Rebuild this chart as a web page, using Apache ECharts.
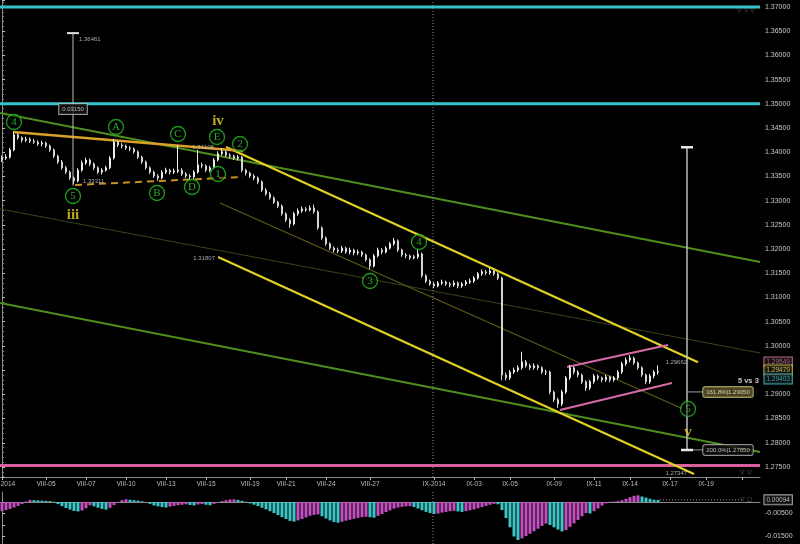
<!DOCTYPE html>
<html><head><meta charset="utf-8">
<script src="https://cdn.jsdelivr.net/npm/echarts@6/dist/echarts.min.js"></script>
<style>html,body{margin:0;padding:0;background:#000}#c{width:800px;height:544px}</style>
</head><body><div id="c"></div>
<script>
// ---------- data ----------
const slotCount = 190;
const tickSlots  = [0,11,21,31,41,51,62,71,81,92,108,118,127,138,148,157,167,176,185];
const tickLabels = ['VIII-2014','VIII-05','VIII-07','VIII-10','VIII-13','VIII-15','VIII-19','VIII-21','VIII-24','VIII-27',
                    'IX-2014','IX-03','IX-05','IX-09','IX-11','IX-14','IX-17','IX-19',''];
const firstOpen = 1.3385;
const closes = [1.3388,1.3390,1.3405,1.3436,1.3430,1.3425,1.3427,1.3423,1.3421,1.3417,
 1.3419,1.3413,1.3405,1.3392,1.3380,1.3368,1.3359,1.3347,1.3341,1.3363,
 1.3378,1.3384,1.3376,1.3368,1.3359,1.3363,1.3368,1.3388,1.3421,1.3415,
 1.3413,1.3409,1.3407,1.3401,1.3390,1.3380,1.3368,1.3359,1.3351,1.3347,
 1.3359,1.3363,1.3359,1.3361,1.3363,1.3355,1.3351,1.3349,1.3359,1.3374,
 1.3372,1.3363,1.3368,1.3384,1.3397,1.3401,1.3394,1.3392,1.3388,1.3390,
 1.3363,1.3357,1.3351,1.3347,1.3339,1.3322,1.3314,1.3306,1.3297,1.3289,
 1.3273,1.3260,1.3252,1.3273,1.3279,1.3283,1.3281,1.3285,1.3277,1.3244,
 1.3223,1.3211,1.3202,1.3198,1.3196,1.3202,1.3194,1.3198,1.3192,1.3194,
 1.3188,1.3178,1.3165,1.3186,1.3198,1.3194,1.3202,1.3211,1.3217,1.3198,
 1.3188,1.3186,1.3182,1.3184,1.3190,1.3145,1.3134,1.3128,1.3124,1.3130,
 1.3132,1.3128,1.3126,1.3130,1.3124,1.3128,1.3132,1.3134,1.3140,1.3149,
 1.3153,1.3151,1.3155,1.3149,1.3140,1.2940,1.2934,1.2946,1.2950,1.2955,
 1.2967,1.2959,1.2955,1.2959,1.2955,1.2946,1.2946,1.2905,1.2889,1.2880,
 1.2905,1.2934,1.2955,1.2946,1.2940,1.2926,1.2913,1.2926,1.2938,1.2934,
 1.2930,1.2936,1.2930,1.2934,1.2946,1.2963,1.2971,1.2975,1.2965,1.2955,
 1.2940,1.2926,1.2938,1.2946,1.2947];
const highs = [1.3393,1.3396,1.3409,1.3442,1.3440,1.3433,1.3432,1.3431,1.3428,1.3425,
 1.3424,1.3422,1.3416,1.3408,1.3395,1.3384,1.3372,1.3362,1.3350,1.3367,
 1.3383,1.3389,1.3387,1.3379,1.3371,1.3367,1.3372,1.3392,1.3427,1.3424,
 1.3419,1.3416,1.3413,1.3410,1.3404,1.3393,1.3383,1.3371,1.3362,1.3355,
 1.3363,1.3368,1.3366,1.3366,1.3415,1.3367,1.3359,1.3355,1.3363,1.3405,
 1.3379,1.3375,1.3372,1.3388,1.3402,1.3409,1.3404,1.3398,1.3395,1.3394,
 1.3392,1.3366,1.3360,1.3355,1.3350,1.3342,1.3326,1.3318,1.3309,1.3300,
 1.3292,1.3276,1.3264,1.3277,1.3284,1.3288,1.3287,1.3290,1.3292,1.3280,
 1.3247,1.3226,1.3214,1.3206,1.3203,1.3207,1.3205,1.3203,1.3201,1.3199,
 1.3197,1.3191,1.3181,1.3190,1.3203,1.3202,1.3206,1.3215,1.3223,1.3220,
 1.3201,1.3192,1.3189,1.3188,1.3199,1.3193,1.3148,1.3137,1.3132,1.3134,
 1.3137,1.3135,1.3132,1.3135,1.3133,1.3132,1.3136,1.3139,1.3144,1.3153,
 1.3158,1.3157,1.3161,1.3158,1.3152,1.3143,1.2945,1.2950,1.2955,1.2960,
 1.2988,1.2971,1.2963,1.2964,1.2962,1.2958,1.2951,1.2949,1.2908,1.2893,
 1.2909,1.2938,1.2961,1.2958,1.2950,1.2943,1.2929,1.2930,1.2942,1.2941,
 1.2937,1.2941,1.2939,1.2938,1.2950,1.2967,1.2976,1.2981,1.2978,1.2968,
 1.2958,1.2943,1.2942,1.2950,1.2960];
const lows = [1.3380,1.3384,1.3387,1.3402,1.3426,1.3420,1.3421,1.3419,1.3417,1.3413,
 1.3412,1.3409,1.3401,1.3388,1.3376,1.3364,1.3355,1.3343,1.3334,1.3338,
 1.3360,1.3374,1.3371,1.3363,1.3355,1.3354,1.3360,1.3365,1.3385,1.3411,
 1.3408,1.3405,1.3402,1.3397,1.3386,1.3376,1.3364,1.3355,1.3347,1.3341,
 1.3344,1.3355,1.3354,1.3355,1.3357,1.3351,1.3347,1.3343,1.3345,1.3356,
 1.3367,1.3359,1.3359,1.3365,1.3381,1.3393,1.3390,1.3387,1.3384,1.3383,
 1.3359,1.3352,1.3347,1.3342,1.3334,1.3318,1.3310,1.3302,1.3293,1.3285,
 1.3269,1.3256,1.3244,1.3249,1.3269,1.3275,1.3277,1.3278,1.3273,1.3240,
 1.3219,1.3207,1.3198,1.3193,1.3191,1.3192,1.3190,1.3189,1.3187,1.3188,
 1.3184,1.3174,1.3158,1.3162,1.3183,1.3189,1.3191,1.3199,1.3207,1.3194,
 1.3184,1.3181,1.3178,1.3179,1.3180,1.3141,1.3130,1.3124,1.3119,1.3121,
 1.3126,1.3124,1.3121,1.3122,1.3119,1.3120,1.3124,1.3128,1.3130,1.3137,
 1.3145,1.3146,1.3147,1.3145,1.3136,1.2929,1.2929,1.2930,1.2942,1.2946,
 1.2951,1.2955,1.2950,1.2951,1.2950,1.2942,1.2940,1.2900,1.2884,1.2872,
 1.2876,1.2901,1.2930,1.2941,1.2935,1.2921,1.2907,1.2909,1.2922,1.2929,
 1.2925,1.2926,1.2925,1.2926,1.2930,1.2942,1.2959,1.2966,1.2961,1.2951,
 1.2936,1.2921,1.2922,1.2933,1.2941];
const histogram = [-0.0039,-0.0035,-0.0030,-0.0024,-0.0017,-0.0009,0.0002,0.0009,0.0008,0.0007,
 0.0006,0.0005,0.0004,0.0001,-0.0009,-0.0018,-0.0026,-0.0033,-0.0039,-0.0041,
 -0.0037,-0.0027,-0.0014,-0.0019,-0.0025,-0.0030,-0.0033,-0.0025,-0.0013,-0.0002,
 0.0008,0.0012,0.0010,0.0008,0.0006,0.0003,0.0000,-0.0008,-0.0015,-0.0019,
 -0.0022,-0.0024,-0.0020,-0.0017,-0.0014,-0.0012,-0.0010,-0.0013,-0.0015,-0.0011,
 -0.0009,-0.0012,-0.0014,-0.0008,-0.0002,0.0004,0.0008,0.0011,0.0012,0.0009,
 0.0005,0.0001,-0.0006,-0.0012,-0.0018,-0.0025,-0.0032,-0.0040,-0.0048,-0.0057,
 -0.0066,-0.0074,-0.0082,-0.0085,-0.0080,-0.0074,-0.0067,-0.0060,-0.0056,-0.0054,
 -0.0062,-0.0072,-0.0080,-0.0087,-0.0090,-0.0086,-0.0081,-0.0077,-0.0073,-0.0069,
 -0.0066,-0.0064,-0.0066,-0.0068,-0.0060,-0.0052,-0.0044,-0.0036,-0.0029,-0.0024,
 -0.0021,-0.0019,-0.0018,-0.0022,-0.0028,-0.0036,-0.0043,-0.0048,-0.0052,-0.0050,
 -0.0046,-0.0043,-0.0040,-0.0038,-0.0041,-0.0043,-0.0040,-0.0036,-0.0032,-0.0027,
 -0.0022,-0.0017,-0.0012,-0.0008,-0.0010,-0.0035,-0.0070,-0.0110,-0.0150,-0.0165,
 -0.0158,-0.0148,-0.0138,-0.0127,-0.0116,-0.0104,-0.0094,-0.0100,-0.0110,-0.0120,
 -0.0128,-0.0122,-0.0108,-0.0093,-0.0078,-0.0062,-0.0048,-0.0050,-0.0040,-0.0028,
 -0.0016,-0.0006,0.0001,0.0002,0.0004,0.0008,0.0014,0.0021,0.0027,0.0029,
 0.0024,0.0019,0.0014,0.0010,0.0009];
const histCurrent = 0.00094;

// horizontal levels
const cyanLevels = [1.3700, 1.3500];
const pinkLevel = 1.2753;
// trend lines: [slot position, price]
const greenUpper  = [[-0.5,1.34811],[189.5,1.31734]];
const greenLower  = [[-0.5,1.30887],[189.5,1.27811]];
const yellowUpper = [[56,1.34109],[174,1.29661]];
const yellowLower = [[54,1.31838],[173,1.27357]];
const oliveLine   = [[54.5,1.32953],[170,1.28707]];
const faintLine   = [[-0.5,1.32829],[189.5,1.29855]];
const orangeTop   = [[2.75,1.34419],[60.25,1.34027]];
const orangeDash  = [[18.25,1.33324],[60.25,1.33490]];
const pinkUpper   = [[141.25,1.29566],[166.5,1.30020]];
const pinkLower   = [[139.5,1.28678],[167.5,1.29236]];
const measureLeft = {x:17.75, top:1.36461, bottom:1.33311};
const measureRight = {x:171.25, top:1.34106, bottom:1.27852, fib:1.29050};
const dividerSlot = 107.75;
// wave labels
const waveCircles = [[3.0,1.34625,'4'],[17.75,1.33097,'5'],[28.5,1.34522,'A'],[38.75,1.33159,'B'],
  [44.0,1.34377,'C'],[47.5,1.33283,'D'],[53.75,1.34315,'E'],[59.5,1.34171,'2'],[54.0,1.33551,'1'],
  [92.0,1.31341,'3'],[104.25,1.32147,'4'],[171.5,1.28698,'5']];
const waveRoman = [[17.75,1.32704,'iii'],[54.0,1.34646,'iv'],[171.5,1.28223,'v']];
// small price texts: [slot, price, text, side]
const smallTexts = [[19.0,1.36340,'1.36461','right'],[20.0,1.33407,'1.33311','right'],
  [47.3,1.34109,'1.34108','right'],[53.5,1.31817,'1.31807','left'],
  [165.6,1.29669,'1.29662','right'],[165.6,1.27377,'1.27347','right']];
const priceTags = [[1.29669,'1.29549','#e07aa8'],[1.29504,'1.29479','#e0d040'],[1.29318,'1.29403','#40c8d0']];

// ---------- build ----------
const categories = Array.from({length: slotCount}, (_, i) => {
  const k = tickSlots.indexOf(i); return k >= 0 ? tickLabels[k] : '';
});
const opens = closes.map((c, i) => i === 0 ? firstOpen : closes[i - 1]);
const candles = closes.map((c, i) => [opens[i], c, lows[i], highs[i]]);
const isTick = (idx) => tickSlots.indexOf(idx) >= 0;
const FONT = 'Liberation Sans';

function seg(data, color, width, extra) {
  return Object.assign({type:'line', xAxisIndex:1, yAxisIndex:0, data:data, symbol:'none', silent:true,
    animation:false, lineStyle:{color:color, width:width}, z:3}, extra || {});
}
const series = [];
series.push({
  type:'candlestick', xAxisIndex:0, yAxisIndex:0, data:candles, barWidth:1.6, animation:false, z:4,
  itemStyle:{color:'#d6d6d6', color0:'#c4c4c4', borderColor:'#ececec', borderColor0:'#d4d4d4', borderWidth:1}
});
cyanLevels.forEach(v => series.push(seg([[-0.5,v],[189.5,v]], '#32c4ca', 3, {z:2})));
series.push(seg([[-0.5,pinkLevel],[189.5,pinkLevel]], '#d8609c', 3, {z:2}));
series.push(seg(faintLine, '#3b4418', 1));
series.push(seg(oliveLine, '#5f5a18', 1.2));
series.push(seg(greenUpper, '#4f8e1c', 2));
series.push(seg(greenLower, '#4f8e1c', 2));
series.push(seg(yellowUpper, '#e1d124', 2.2));
series.push(seg(yellowLower, '#e1d124', 2.2));
series.push(seg(orangeTop, '#d9a12a', 2.5));
series.push(seg(orangeDash, '#c98f22', 2, {lineStyle:{color:'#c98f22', width:2, type:[7,5]}}));
series.push(seg(pinkUpper, '#d66aa8', 2));
series.push(seg(pinkLower, '#d66aa8', 2));
// measurement tools
series.push(seg([[measureLeft.x, measureLeft.top],[measureLeft.x, measureLeft.bottom]], '#bdbdbd', 1));
series.push(seg([[measureLeft.x-1.5, measureLeft.top],[measureLeft.x+1.5, measureLeft.top]], '#e0e0e0', 2));
series.push(seg([[measureRight.x, measureRight.top],[measureRight.x, measureRight.bottom]], '#c8c8c8', 1.4));
series.push(seg([[measureRight.x-1.5, measureRight.top],[measureRight.x+1.5, measureRight.top]], '#e8e8e8', 2.5));
series.push(seg([[measureRight.x-1.5, measureRight.bottom],[measureRight.x+1.5, measureRight.bottom]], '#e8e8e8', 2.5));
series.push(seg([[measureRight.x, measureRight.fib],[175.3, measureRight.fib]], '#9a9a9a', 1));
series.push(seg([[measureRight.x+1.5, measureRight.bottom],[175.3, measureRight.bottom]], '#9a9a9a', 1));
// divider
series.push(seg([[dividerSlot,1.27293],[dividerSlot,1.37145]], '#8a8a8a', 1, {lineStyle:{color:'#8a8a8a', width:1, type:[1,2]}}));
// wave circles
series.push({type:'scatter', xAxisIndex:1, yAxisIndex:0, animation:false, silent:true, z:6,
  data: waveCircles.map(d => ({value:[d[0], d[1]], name:d[2]})),
  symbol:'circle', symbolSize:15,
  itemStyle:{color:'rgba(0,0,0,0.55)', borderColor:'#22c022', borderWidth:1.3},
  label:{show:true, position:'inside', formatter:p => p.name, color:'#2fd42f', fontFamily:'Liberation Serif', fontSize:11}
});
series.push({type:'scatter', xAxisIndex:1, yAxisIndex:0, animation:false, silent:true, z:6,
  data: waveRoman.map(d => ({value:[d[0], d[1]], name:d[2]})), symbolSize:0,
  label:{show:true, position:'inside', formatter:p => p.name, color:'#e6d320', fontFamily:'Liberation Serif', fontWeight:'bold', fontSize:15}
});
// small texts
series.push({type:'scatter', xAxisIndex:1, yAxisIndex:0, animation:false, silent:true, z:7, clip:false,
  data: smallTexts.map(d => ({value:[d[0], d[1]], name:d[2], label:{position:d[3]}})), symbolSize:0,
  label:{show:true, distance:1, formatter:p => p.name, color:'#cfcfcf', fontFamily:FONT, fontSize:6}
});
// boxed labels
series.push({type:'scatter', xAxisIndex:1, yAxisIndex:0, animation:false, silent:true, z:8, clip:false, symbolSize:0,
  data:[
    {value:[measureLeft.x, 1.34894], name:'0.03150', label:{position:'inside', backgroundColor:'#111', borderColor:'#bbb', borderWidth:1, padding:[2,3]}},
    {value:[175.3, measureRight.fib], name:'161.8%|1.29050', label:{position:'right', distance:0, backgroundColor:'#5e5528', borderColor:'#c9b977', borderWidth:1, borderRadius:2, padding:[2,3], color:'#f0ecd0'}},
    {value:[175.3, measureRight.bottom], name:'200.0%|1.27850', label:{position:'right', distance:0, backgroundColor:'#0c0c0c', borderColor:'#b0b0b0', borderWidth:1, borderRadius:2, padding:[2,3]}},
    {value:[189.2, 1.29277], name:'5 vs 3', label:{position:'left', distance:0, fontWeight:'bold', fontSize:7.5, color:'#f2f2f2'}},
    {value:[186.0, 1.36935], name:'▽ ▽ ▽', label:{position:'inside', color:'#8a8a8a', fontSize:6}},
    {value:[186.0, 1.27395], name:'▽ ▽', label:{position:'inside', color:'#8a8a8a', fontSize:6}}
  ].concat(priceTags.map(t => ({value:[190.6, t[0]], name:t[1],
    label:{position:'right', distance:0, color:t[2], borderColor:t[2], borderWidth:1, backgroundColor:'#151515', padding:[1,2], fontSize:6.5}}))),
  label:{show:true, formatter:p => p.name, color:'#e0e0e0', fontFamily:FONT, fontSize:6}
});
// lower pane
series.push({type:'bar', xAxisIndex:2, yAxisIndex:1, data:histogram, barWidth:3, animation:false, silent:true,
  itemStyle:{color: p => (p.dataIndex > 0 && histogram[p.dataIndex] < histogram[p.dataIndex-1]) ? '#3cc6c6' : '#c44fc0'}
});
series.push({type:'line', xAxisIndex:3, yAxisIndex:1, data:[[dividerSlot,-0.01826],[dividerSlot,0.00435]], symbol:'none',
  silent:true, animation:false, lineStyle:{color:'#8a8a8a', width:1, type:[1,2]}});
series.push({type:'line', xAxisIndex:3, yAxisIndex:1, data:[[164.5,histCurrent],[185,histCurrent]], symbol:'none',
  silent:true, animation:false, lineStyle:{color:'#9a9a9a', width:1, type:[1,2]}});
series.push({type:'scatter', xAxisIndex:3, yAxisIndex:1, animation:false, silent:true, clip:false, symbolSize:0, z:8,
  data:[
    {value:[186.0, histCurrent], name:'▽ ◻', label:{position:'inside', color:'#8a8a8a', fontSize:6}},
    {value:[190.6, histCurrent], name:histCurrent.toFixed(5), label:{position:'right', distance:0, color:'#e0e0e0', borderColor:'#c8c8c8', borderWidth:1, backgroundColor:'#111', padding:[1,2], fontSize:6.5}}
  ],
  label:{show:true, formatter:p => p.name, fontFamily:FONT}
});

const axisGray = '#8c8c8c';
const option = {
  backgroundColor:'#000',
  animation:false,
  textStyle:{fontFamily:FONT},
  grid:[{left:0, right:40, top:0, height:477, containLabel:false, outerBoundsMode:'none'},
        {left:0, right:40, top:492, bottom:0, containLabel:false, outerBoundsMode:'none'}],
  xAxis:[
    {type:'category', gridIndex:0, data:categories, boundaryGap:true,
      axisLine:{show:true, lineStyle:{color:axisGray}},
      axisTick:{show:true, interval:isTick, alignWithLabel:true, length:3, lineStyle:{color:'#bbb'}},
      axisLabel:{show:true, interval:isTick, color:'#bdbdbd', fontSize:6.5, margin:4, fontFamily:FONT, hideOverlap:false},
      splitLine:{show:false}},
    {type:'value', gridIndex:0, min:-0.5, max:189.5, show:false},
    {type:'category', gridIndex:1, data:categories, boundaryGap:true, position:'top',
      axisLine:{show:true, lineStyle:{color:axisGray}}, axisTick:{show:false}, axisLabel:{show:false}},
    {type:'value', gridIndex:1, min:-0.5, max:189.5, show:false}
  ],
  yAxis:[
    {type:'value', gridIndex:0, position:'right', min:1.27293, max:1.37145, splitNumber:20, minInterval:0.005, maxInterval:0.005,
      axisLine:{show:true, lineStyle:{color:axisGray}},
      axisTick:{show:true, length:3, lineStyle:{color:'#bbb'}},
      minorTick:{show:true, splitNumber:5, length:2, lineStyle:{color:'#888'}},
      splitLine:{show:false},
      axisLabel:{color:'#c8c8c8', fontSize:7, margin:5, showMinLabel:false, showMaxLabel:false, formatter:v => v.toFixed(5)}},
    {type:'value', gridIndex:1, position:'right', min:-0.01826, max:0.00435, splitNumber:4, minInterval:0.005, maxInterval:0.005,
      axisLine:{show:true, lineStyle:{color:axisGray}},
      axisTick:{show:true, length:3, lineStyle:{color:'#bbb'}},
      splitLine:{show:false},
      axisLabel:{color:'#c8c8c8', fontSize:7, margin:5, showMinLabel:false, showMaxLabel:false,
        formatter:v => (Math.abs(v + 0.005) < 1e-9 || Math.abs(v + 0.015) < 1e-9) ? v.toFixed(5) : ''}}
  ],
  series: series
};
const chart = echarts.init(document.getElementById('c'));
chart.setOption(option);
</script></body></html>
